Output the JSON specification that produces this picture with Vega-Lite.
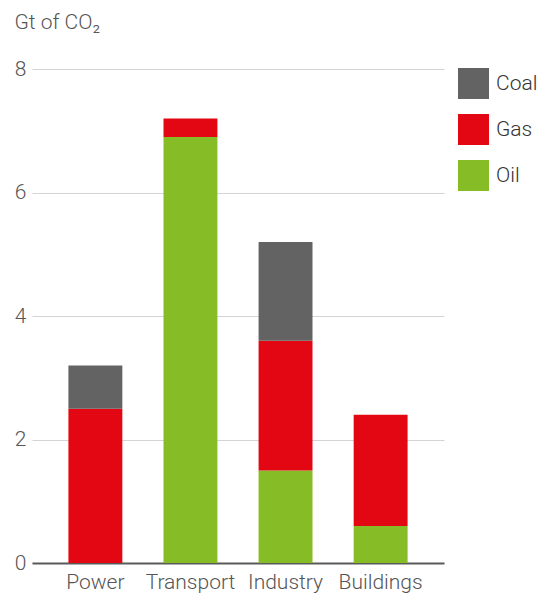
{
  "$schema": "https://vega.github.io/schema/vega-lite/v6.json",
  "autosize": {"type": "none"},
  "width": 412,
  "height": 494,
  "padding": {"left": 32, "top": 69, "right": 103, "bottom": 36},
  "background": "white",
  "config": {
    "view": {"stroke": null},
    "font": "Roboto",
    "axis": {"labelFont": "Roboto", "titleFont": "Roboto"},
    "legend": {"labelFont": "Roboto"}
  },
  "data": {
    "values": [
      {"sector": "Power", "fuel": "Oil", "value": 0, "rank": 1},
      {"sector": "Power", "fuel": "Gas", "value": 2.5, "rank": 2},
      {"sector": "Power", "fuel": "Coal", "value": 0.7, "rank": 3},
      {"sector": "Transport", "fuel": "Oil", "value": 6.9, "rank": 1},
      {"sector": "Transport", "fuel": "Gas", "value": 0.3, "rank": 2},
      {"sector": "Transport", "fuel": "Coal", "value": 0, "rank": 3},
      {"sector": "Industry", "fuel": "Oil", "value": 1.5, "rank": 1},
      {"sector": "Industry", "fuel": "Gas", "value": 2.1, "rank": 2},
      {"sector": "Industry", "fuel": "Coal", "value": 1.6, "rank": 3},
      {"sector": "Buildings", "fuel": "Oil", "value": 0.6, "rank": 1},
      {"sector": "Buildings", "fuel": "Gas", "value": 1.8, "rank": 2},
      {"sector": "Buildings", "fuel": "Coal", "value": 0, "rank": 3}
    ]
  },
  "mark": {"type": "bar"},
  "encoding": {
    "x": {
      "field": "sector",
      "type": "nominal",
      "sort": ["Power", "Transport", "Industry", "Buildings"],
      "scale": {"paddingInner": 0.433, "paddingOuter": 0.383},
      "axis": {
        "title": null,
        "labelAngle": 0,
        "labelFontSize": 21,
        "labelFontWeight": 300,
        "labelColor": "#555555",
        "labelPadding": 8,
        "ticks": false,
        "domainColor": "#5a5a5a",
        "domainWidth": 2
      }
    },
    "y": {
      "field": "value",
      "type": "quantitative",
      "stack": "zero",
      "scale": {"domain": [0, 8], "nice": false},
      "axis": {
        "values": [0, 2, 4, 6, 8],
        "title": "Gt of CO₂",
        "titleAngle": 0,
        "titleAlign": "left",
        "titleBaseline": "alphabetic",
        "titleX": -18,
        "titleY": -41,
        "titleFontSize": 21,
        "titleFontWeight": 300,
        "titleColor": "#555555",
        "labelFontSize": 21,
        "labelFontWeight": 300,
        "labelColor": "#555555",
        "labelPadding": 6,
        "ticks": false,
        "domain": false,
        "gridColor": "#d4d4d4",
        "gridWidth": 1
      }
    },
    "color": {
      "field": "fuel",
      "type": "nominal",
      "scale": {"domain": ["Coal", "Gas", "Oil"], "range": ["#636363", "#e30613", "#86bc25"]},
      "legend": {
        "title": null,
        "orient": "none",
        "legendX": 426,
        "legendY": -1,
        "symbolType": "square",
        "symbolSize": 961,
        "symbolStrokeWidth": 0,
        "symbolOpacity": 1,
        "rowPadding": 15,
        "labelOffset": 7,
        "labelFontSize": 21,
        "labelFontWeight": 300,
        "labelColor": "#333333"
      }
    },
    "order": {"field": "rank", "type": "quantitative"}
  }
}
